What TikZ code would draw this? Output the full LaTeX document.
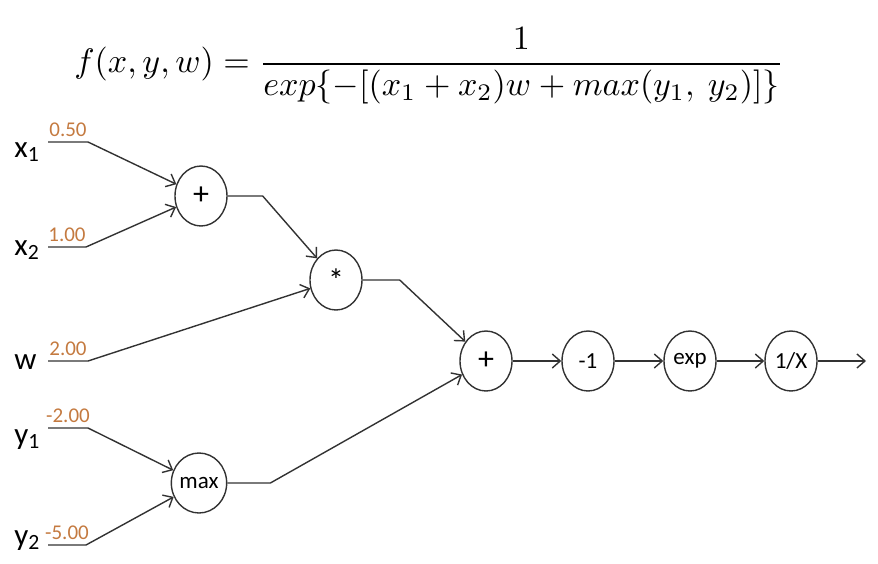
\documentclass[tikz,border=0pt]{standalone}
\usepackage{amsmath}
\usepackage{fontspec}
\setmainfont{Carlito}
\usetikzlibrary{shapes.geometric,arrows.meta,positioning}
\definecolor{valorange}{RGB}{196,122,64}
\definecolor{linegray}{RGB}{50,50,50}

\begin{document}
\begin{tikzpicture}[x=0.5pt,y=-0.5pt,
        op/.style={ellipse, draw=linegray, line width=0.7pt, minimum width=26pt,
                minimum height=30pt, inner sep=0pt, font=\fontsize{11.5}{13}\selectfont},
        var/.style={anchor=base west, inner sep=0pt, font=\fontsize{15.5}{17}\selectfont},
        val/.style={above, inner sep=2.5pt, text=valorange, font=\fontsize{10.5}{12}\selectfont},
        edge/.style={draw=linegray, line width=0.7pt, -{Straight Barb[length=4pt,width=7pt]}},
    ]
    \useasboundingbox (0,0) rectangle (878,563);

    % -- formula -------------------------------------------
    \node (eq) at (429,66)
        {\scalebox{1.7}{$\displaystyle f(x,y,w) = \frac{1}{exp\{-[(x_1+x_2)w+max(y_1,\ y_2)]\}}$}};

    % -- operation nodes -----------------------------------
    \node[op] (plusA) at (201,196) {\fontsize{16}{18}\selectfont +};
    \node[op] (mul)   at (336,280) {\fontsize{16}{18}\selectfont \raisebox{-0.35ex}{*}};
    \node[op] (max)   at (199,483) {max};
    \node[op] (plusB) at (486,361) {\fontsize{16}{18}\selectfont +};
    \node[op] (neg)   at (588,361) {-1};
    \node[op] (expn)  at (690,361) {exp};
    \node[op] (inv)   at (791,361) {1/X};
    \coordinate (out) at (866,361);

    % -- inputs --------------------------------------------
    \node[var] (x1) at (14,157) {x\textsubscript{1}};
    \node[var] (x2) at (14,255) {x\textsubscript{2}};
    \node[var] (w)  at (14,369) {w};
    \node[var] (y1) at (14,444) {y\textsubscript{1}};
    \node[var] (y2) at (14,545) {y\textsubscript{2}};
    \coordinate (x1in) at (48,142);
    \coordinate (x2in) at (48,247);
    \coordinate (win)  at (48,361);
    \coordinate (y1in) at (48,428);
    \coordinate (y2in) at (48,545);

    \draw[edge] (x1in) -- node[val] {0.50}  ++(40,0) -- (plusA);
    \draw[edge] (x2in) -- node[val] {1.00}  ++(38,0) -- (plusA);
    \draw[edge] (win)  -- node[val] {2.00}  ++(40,0) -- (mul);
    \draw[edge] (y1in) -- node[val] {-2.00} ++(40,0) -- (max);
    \draw[edge] (y2in) -- node[val] {-5.00} ++(38,0) -- (max);

    % -- internal connectors -------------------------------
    \draw[edge] (plusA.east) -- ++(35,0) -- (mul);
    \draw[edge] (mul.east)   -- ++(37,0) -- (plusB);
    \draw[edge] (max.east)   -- ++(43,0) -- (plusB);
    \draw[edge] (plusB) -- (neg);
    \draw[edge] (neg)   -- (expn);
    \draw[edge] (expn)  -- (inv);
    \draw[edge] (inv)   -- (out);
\end{tikzpicture}
\end{document}
